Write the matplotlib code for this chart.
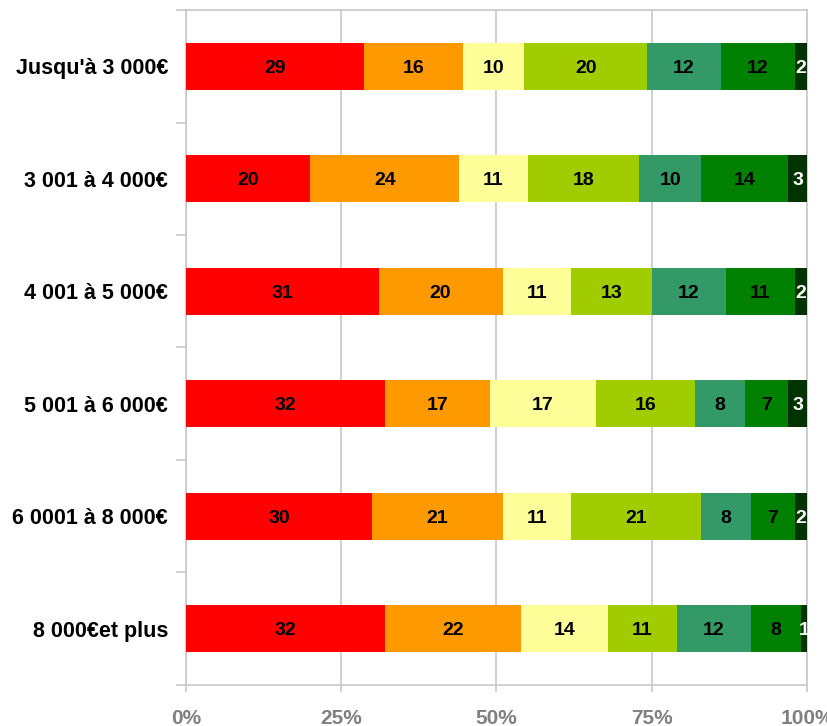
import numpy as np
import matplotlib
matplotlib.use("Agg")
from matplotlib import pyplot as plt
from matplotlib.ticker import FixedLocator, FuncFormatter

plt.rcParams["font.family"] = ["Liberation Sans", "DejaVu Sans"]

categories = ["Jusqu'à 3 000€", "3 001 à 4 000€", "4 001 à 5 000€",
              "5 001 à 6 000€", "6 0001 à 8 000€", "8 000€et plus"]

# one list per segment, in category order
seg1 = [29, 20, 31, 32, 30, 32]
seg2 = [16, 24, 20, 17, 21, 22]
seg3 = [10, 11, 11, 17, 11, 14]
seg4 = [20, 18, 13, 16, 21, 11]
seg5 = [12, 10, 12, 8, 8, 12]
seg6 = [12, 14, 11, 7, 7, 8]
seg7 = [2, 3, 2, 3, 2, 1]

colors = ["#FF0000", "#FF9900", "#FFFF99", "#A0CC00", "#339966", "#008000", "#003300"]
text_colors = ["black"] * 6 + ["white"]

values = np.array([seg1, seg2, seg3, seg4, seg5, seg6, seg7], dtype=float)
totals = values.sum(axis=0)
shares = values / totals * 100

fig = plt.figure(figsize=(8.27, 7.26), dpi=100)
ax = fig.add_axes([0.2249, 0.0565, 0.7509, 0.9297])

y = np.arange(len(categories))
left = np.zeros(len(categories))
for i in range(values.shape[0]):
    ax.barh(y, shares[i], left=left, height=0.42, color=colors[i], zorder=3)
    for j in range(len(categories)):
        ax.text(left[j] + shares[i, j] / 2, y[j], f"{int(values[i, j])}",
                ha="center", va="center_baseline", fontsize=14, fontweight="bold",
                color=text_colors[i], zorder=4)
    left += shares[i]

ax.set_xlim(0, 100)
ax.set_ylim(len(categories) - 0.5, -0.5)

grid_c = "#c8c8c8"
for s in ax.spines.values():
    s.set_color(grid_c)
    s.set_linewidth(1.2)

ax.set_xticks([0, 25, 50, 75, 100])
ax.xaxis.set_major_formatter(FuncFormatter(lambda v, p: f"{int(v)}%"))
ax.tick_params(axis="x", length=5, color=grid_c, width=1.2, pad=12,
               labelsize=15, labelcolor="#808080")
for t in ax.get_xticklabels():
    t.set_fontweight("bold")
ax.xaxis.grid(True, color=grid_c, linewidth=1.2, zorder=0)

ax.set_yticks(y)
ax.set_yticklabels(categories, fontsize=15.5, fontweight="bold")
ax.tick_params(axis="y", which="major", length=0, pad=13)
ax.yaxis.set_minor_locator(FixedLocator(np.arange(-0.5, len(categories), 1)))
ax.tick_params(axis="y", which="minor", length=7, color=grid_c, width=1.2)

fig.savefig("out.png", dpi=100)
